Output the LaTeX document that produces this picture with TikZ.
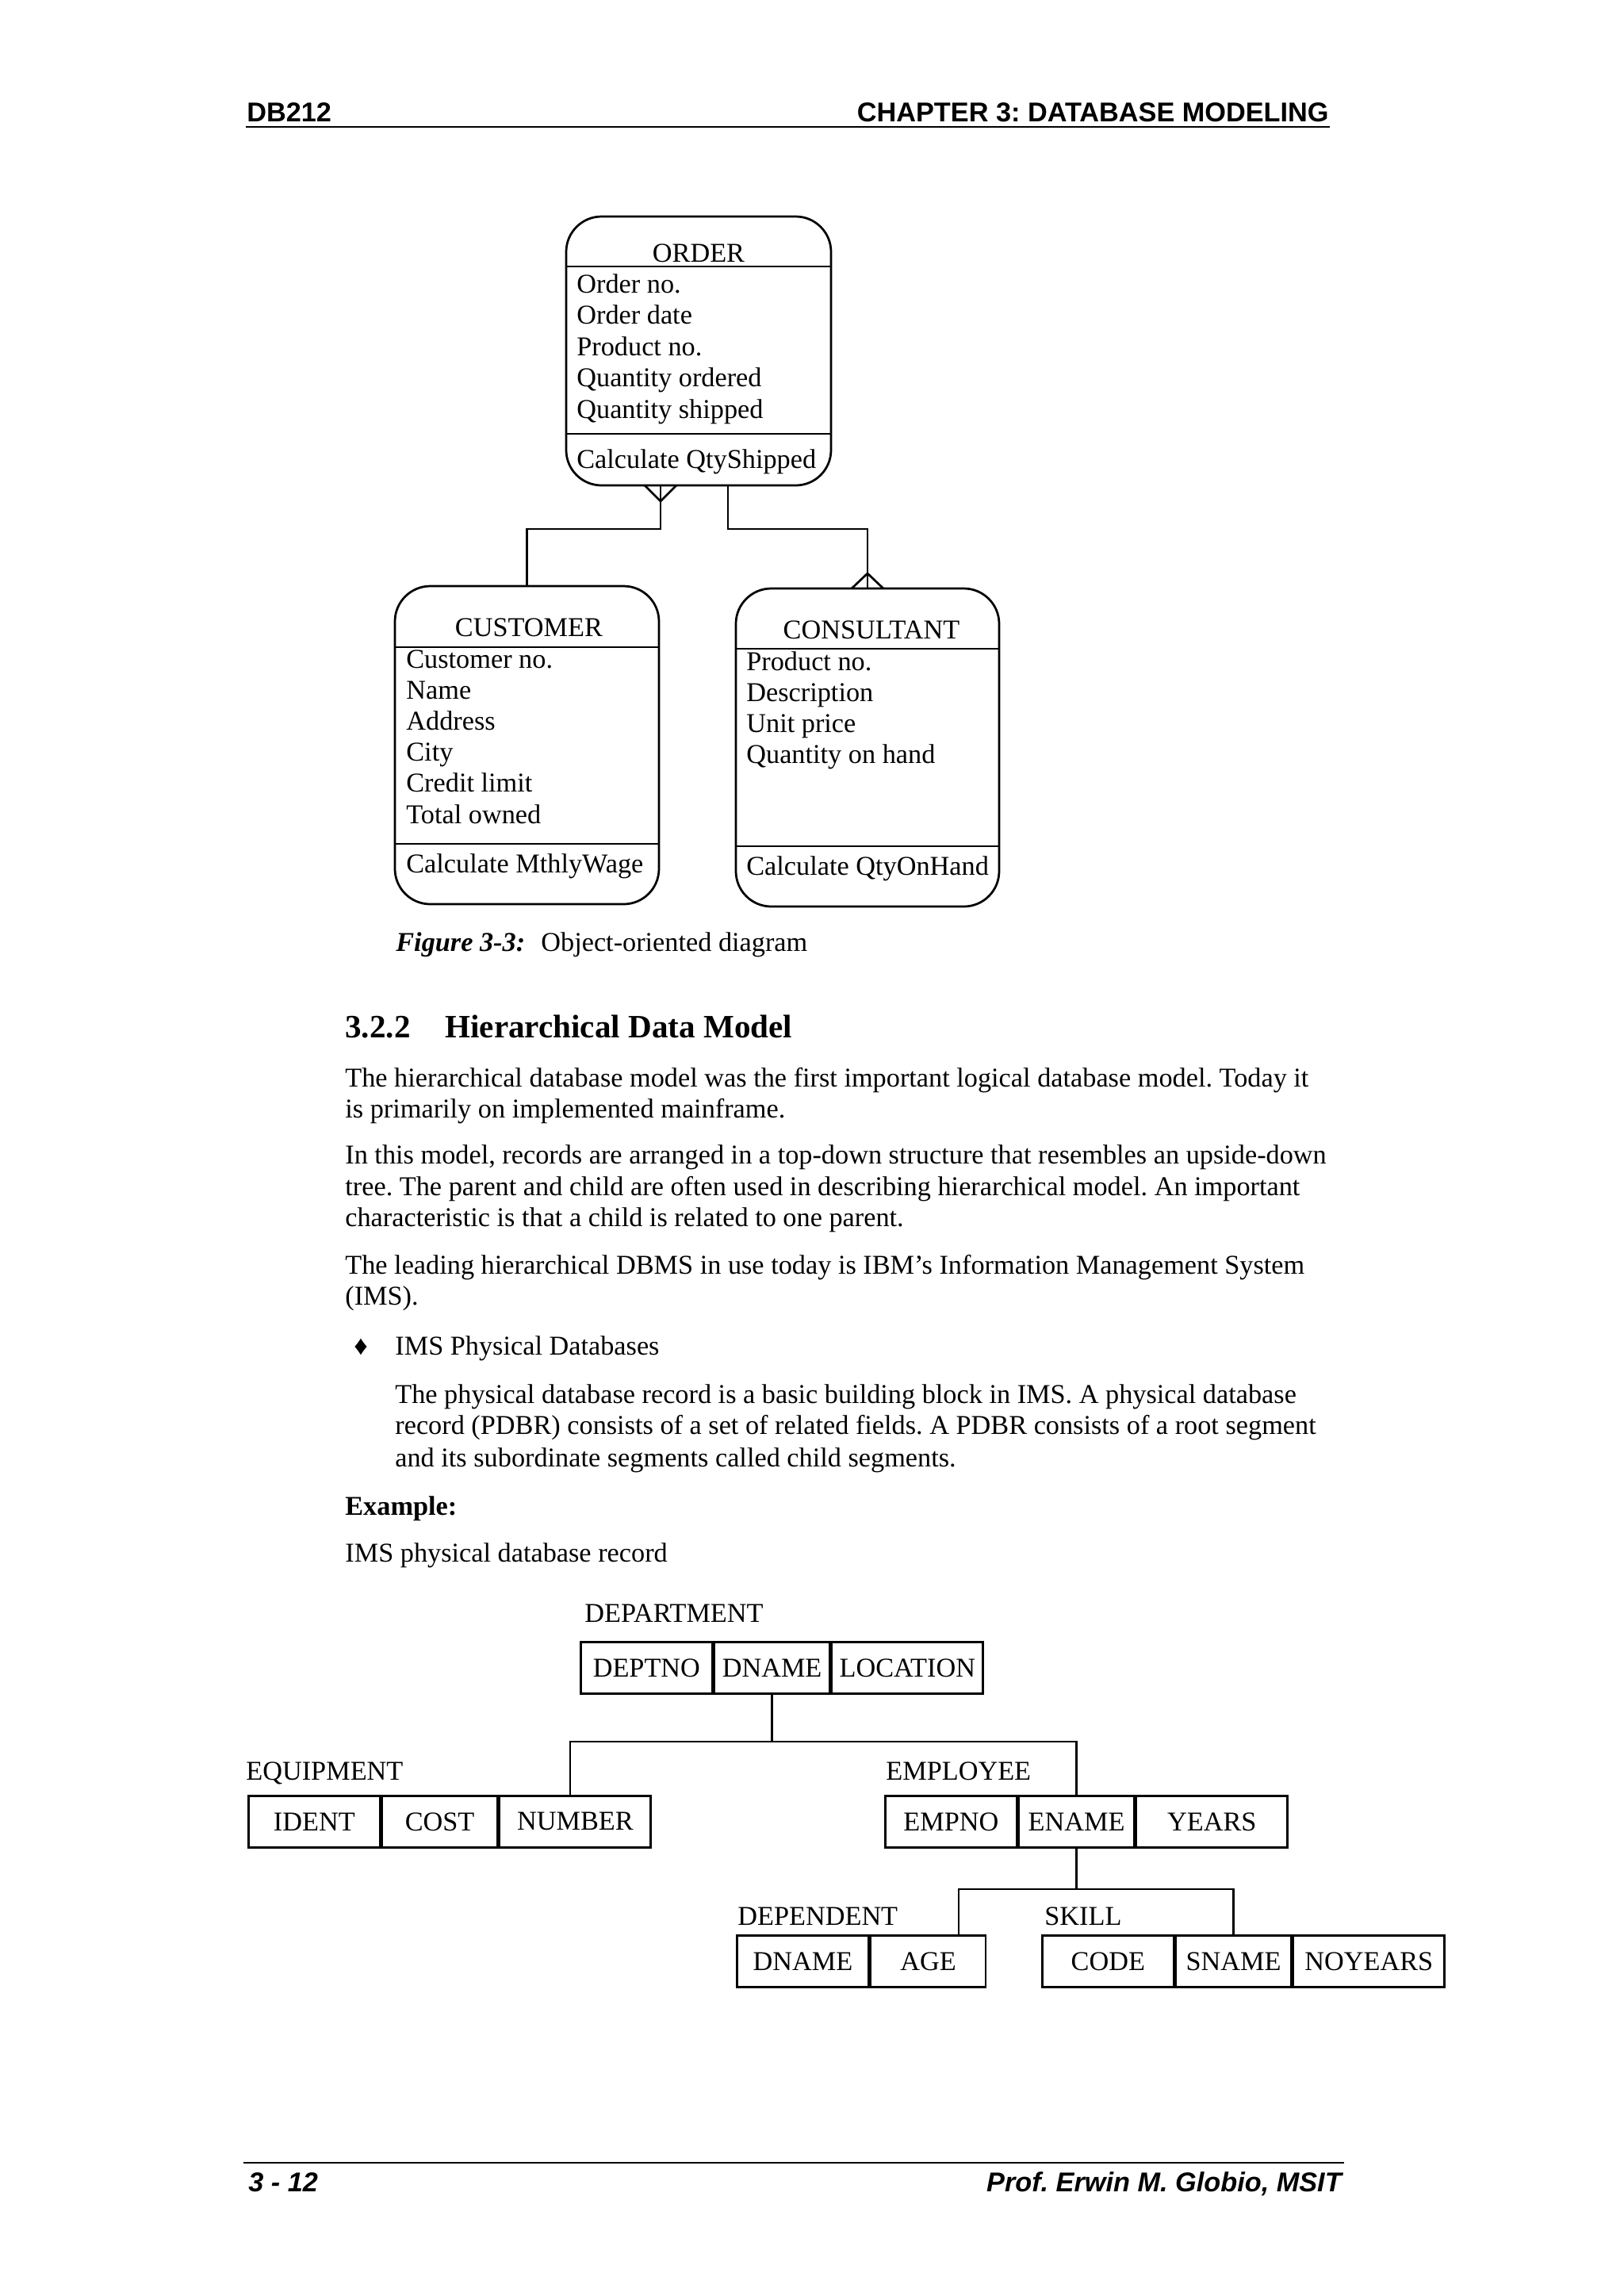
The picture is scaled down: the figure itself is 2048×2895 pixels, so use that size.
\documentclass[tikz,border=0pt]{standalone}
\usepackage{fontspec}
\setmainfont{Liberation Serif}
\newfontfamily\headfont{Liberation Sans}
\usetikzlibrary{positioning}
\newcommand{\pxu}{0.29175pt}
\frenchspacing

\begin{document}
\begin{tikzpicture}[
    x=\pxu, y=-\pxu,
    font=\fontsize{10}{11.4}\selectfont,
    line width=0.8pt,
    node distance=0pt,
    txt/.style={anchor=base west,inner sep=0pt},
    rtxt/.style={anchor=base east,inner sep=0pt},
    ctxt/.style={anchor=base,inner sep=0pt},
    headtxt/.style={font=\headfont\bfseries\fontsize{10}{12}\selectfont},
    foottxt/.style={font=\headfont\bfseries\itshape\fontsize{10}{12}\selectfont},
    classbox/.style={draw,rounded corners=13pt,outer sep=0pt,inner sep=0pt},
    seg/.style={draw,minimum height=65*\pxu,inner sep=0pt},
    segA/.style={seg,minimum width=166*\pxu},
    segB/.style={seg,minimum width=145*\pxu},
    segC/.style={seg,minimum width=191*\pxu},
    link/.style={draw,line width=0.8pt}
  ]
    \path[fill=white] (0,0) rectangle (2048,2895);

    % page header and footer
    \node[txt,headtxt] (hdleft) at (310,153) {DB212};
    \node[rtxt,headtxt] (hdright) at (1677,153) {CHAPTER 3: DATABASE MODELING};
    \draw[line width=0.6pt] (310,160) -- (1677,160);
    \draw[line width=0.6pt] (307,2727) -- (1695,2727);
    \node[txt,foottxt] (ftleft) at (312,2763) {3 - 12};
    \node[rtxt,foottxt] (ftright) at (1693,2763) {Prof. Erwin M. Globio, MSIT};

    % object-oriented diagram
    \node[classbox,minimum width=334*\pxu,minimum height=339*\pxu] (order) at (881,442.5) {};
    \node[classbox,minimum width=333*\pxu,minimum height=401*\pxu] (customer) at (664.5,939.5) {};
    \node[classbox,minimum width=332*\pxu,minimum height=401*\pxu] (consultant) at (1094,942.5) {};
    \draw (order.north west) ++(0,63) -- ++(334,0);
    \draw (order.south west) ++(0,-65) -- ++(335,0);
    \draw (customer.north west) ++(0,77) -- ++(333,0);
    \draw (customer.south west) ++(0,-76) -- ++(334,0);
    \draw (consultant.north west) ++(0,76) -- ++(332,0);
    \draw (consultant.south west) ++(0,-76) -- ++(333,0);

    \node[ctxt] (ordtitle) at (881,330) {ORDER};
    \foreach \t [count=\i from 0] in {Order no.,Order date,Product no.,Quantity ordered,Quantity shipped}
      \node[txt] (ordattr\i) at (726,{369+39.5*\i}) {\t};
    \node[txt] (ordop) at (726,590) {Calculate QtyShipped};

    \node[ctxt] (custtitle) at (667,802) {CUSTOMER};
    \foreach \t [count=\i from 0] in {Customer no.,Name,Address,City,Credit limit,Total owned}
      \node[txt] (custattr\i) at (511,{842+39.2*\i}) {\t};
    \node[txt] (custop) at (511,1100) {Calculate MthlyWage};

    \node[ctxt] (constitle) at (1099,805) {CONSULTANT};
    \foreach \t [count=\i from 0] in {Product no.,Description,Unit price,Quantity on hand}
      \node[txt] (consattr\i) at (940,{845+39*\i}) {\t};
    \node[txt] (consop) at (940,1103) {Calculate QtyOnHand};

    \coordinate (custjoin) at (833,667);
    \coordinate (consjoin) at (918,667);
    \draw[link] (custjoin |- order.south) -- (custjoin) -| (customer.north);
    \draw[link] (consjoin |- order.south) -- (consjoin) -| (consultant.north);
    % crow's feet
    \draw[link] (custjoin |- order.south) ++(-20,0) -- ++(20,20) -- ++(20,-20);
    \draw[link] (consultant.north) ++(-20,0) -- ++(20,-19) -- ++(20,19);

    \node[txt,font=\fontsize{10}{11.4}\selectfont\bfseries\itshape] (figlbl) at (498,1199) {Figure 3-3:};
    \node[txt] (figcap) at (681,1199) {Object-oriented diagram};

    % section text
    \node[txt,font=\fontsize{12}{14}\selectfont\bfseries] (secnum) at (434,1308) {3.2.2};
    \node[txt,font=\fontsize{12}{14}\selectfont\bfseries] (sectitle) at (560,1308) {Hierarchical Data Model};

    \node[txt] (para1a) at (434,1370) {The hierarchical database model was the first important logical database model. Today it};
    \node[txt] (para1b) at (434,1409) {is primarily on implemented mainframe.};
    \node[txt] (para2a) at (434,1467) {In this model, records are arranged in a top-down structure that resembles an upside-down};
    \node[txt] (para2b) at (434,1507) {tree. The parent and child are often used in describing hierarchical model. An important};
    \node[txt] (para2c) at (434,1546) {characteristic is that a child is related to one parent.};
    \node[txt] (para3a) at (434,1606) {The leading hierarchical DBMS in use today is IBM's Information Management System};
    \node[txt] (para3b) at (434,1645) {(IMS).};
    \node[txt] (bullet) at (445,1708) {♦};
    \node[txt] (bulltxt) at (497,1708) {IMS Physical Databases};
    \node[txt] (para4a) at (497,1769) {The physical database record is a basic building block in IMS. A physical database};
    \node[txt] (para4b) at (497,1808) {record (PDBR) consists of a set of related fields. A PDBR consists of a root segment};
    \node[txt] (para4c) at (497,1849) {and its subordinate segments called child segments.};
    \node[txt,font=\fontsize{10}{11.4}\selectfont\bfseries] (exlbl) at (434,1910) {Example:};
    \node[txt] (extxt) at (434,1969) {IMS physical database record};

    % IMS physical database record
    \node[txt] (deptlbl) at (736,2045) {DEPARTMENT};
    \node[segA,anchor=north west] (deptno) at (731,2069) {DEPTNO};
    \node[segB,right=of deptno] (dname) {DNAME};
    \node[segC,right=of dname] (location) {LOCATION};

    \node[txt] (equiplbl) at (309,2244) {EQUIPMENT};
    \node[segA,anchor=north west] (ident) at (312,2263) {IDENT};
    \node[segB,right=of ident] (cost) {COST};
    \node[segC,right=of cost] (number) {NUMBER};

    \node[txt] (emplbl) at (1116,2244) {EMPLOYEE};
    \node[segA,anchor=north west] (empno) at (1115,2263) {EMPNO};
    \node[segB,right=of empno] (ename) {ENAME};
    \node[segC,right=of ename] (years) {YEARS};

    \node[txt] (deplbl) at (929,2427) {DEPENDENT};
    \node[segA,anchor=north west] (depname) at (928,2439) {DNAME};
    \node[segB,right=of depname] (age) {AGE};

    \node[txt] (skilllbl) at (1316,2427) {SKILL};
    \node[segA,anchor=north west] (code) at (1313,2439) {CODE};
    \node[segB,right=of code] (sname) {SNAME};
    \node[segC,right=of sname] (noyears) {NOYEARS};

    \coordinate (deptbus) at (719,2196);
    \draw[link] (dname.south) -- (dname.south |- deptbus);
    \draw[link] (deptbus |- number.north) -- (deptbus) -| (ename.north);
    \coordinate (empbus) at (1209,2382);
    \draw[link] (ename.south) -- (ename.south |- empbus);
    \draw[link] (empbus |- age.north) -- (empbus) -| (sname.north);
  \end{tikzpicture}
\end{document}
